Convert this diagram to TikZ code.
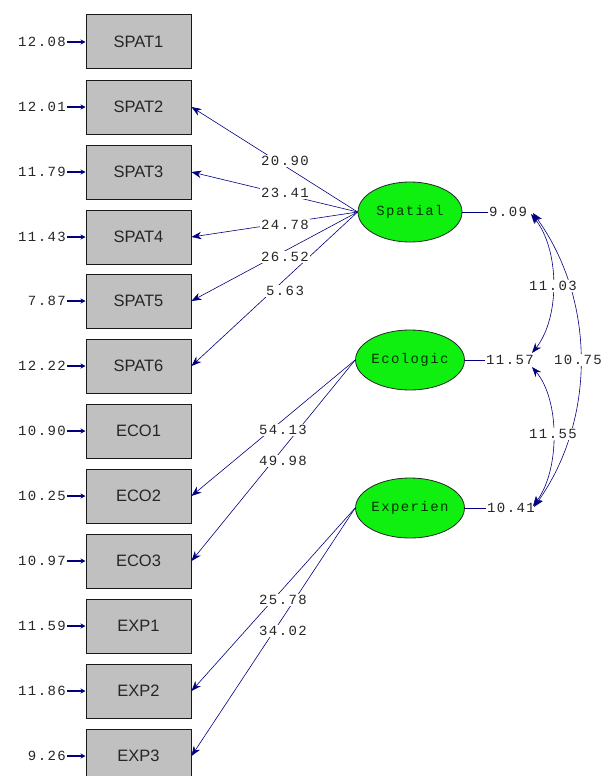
\documentclass[tikz,border=0pt]{standalone}
\usepackage{fontspec}
\setmainfont{Liberation Sans}
\newfontfamily\monof[LetterSpace=10]{Liberation Mono}
\usetikzlibrary{arrows.meta,shapes.geometric}
\definecolor{navy}{RGB}{0,0,128}
\definecolor{boxgray}{RGB}{192,192,192}
\definecolor{latgreen}{RGB}{16,240,16}
\begin{document}
\begin{tikzpicture}[x=1pt,y=-1pt,
  obs/.style={draw=black!90, line width=1pt, fill=boxgray, minimum width=105pt, minimum height=54pt, inner sep=0pt, font=\fontsize{16.5}{16.5}\selectfont, text=black!85},
  lat/.style={ellipse, draw=black!85, line width=0.8pt, fill=latgreen, minimum width=104pt, minimum height=60pt, inner sep=0pt, font=\monof\fontsize{14}{14}\selectfont, text=black!80!green},
  num/.style={font=\monof\fontsize{14}{14}\selectfont, inner sep=1pt, text=black!85},
  lab/.style={num, fill=white, inner sep=1.5pt},
  load/.style={navy, line width=0.6pt, -{Stealth[length=10pt,width=7.5pt]}},
  err/.style={navy, line width=1.8pt, -{Stealth[length=5pt,width=5pt]}},
  cov/.style={navy, line width=0.6pt, {Stealth[length=10pt,width=7.5pt]}-{Stealth[length=10pt,width=7.5pt]}}
]
\useasboundingbox (0,0) rectangle (611,776);
\fill[white] (0,0) rectangle (611,776);

% observed variables
\node[obs] (SPAT1) at (138.5,42) {SPAT1};
\node[obs] (SPAT2) at (138.5,107) {SPAT2};
\node[obs] (SPAT3) at (138.5,172) {SPAT3};
\node[obs] (SPAT4) at (138.5,237) {SPAT4};
\node[obs] (SPAT5) at (138.5,301) {SPAT5};
\node[obs] (SPAT6) at (138.5,366) {SPAT6};
\node[obs] (ECO1) at (138.5,431) {ECO1};
\node[obs] (ECO2) at (138.5,496) {ECO2};
\node[obs] (ECO3) at (138.5,561) {ECO3};
\node[obs] (EXP1) at (138.5,626) {EXP1};
\node[obs] (EXP2) at (138.5,691) {EXP2};
\node[obs] (EXP3) at (138.5,756) {EXP3};

% error terms
\node[num, anchor=east] (e1) at (67,42) {12.08};
\node[num, anchor=east] (e2) at (67,107) {12.01};
\node[num, anchor=east] (e3) at (67,172) {11.79};
\node[num, anchor=east] (e4) at (67,237) {11.43};
\node[num, anchor=east] (e5) at (67,301) {7.87};
\node[num, anchor=east] (e6) at (67,366) {12.22};
\node[num, anchor=east] (e7) at (67,431) {10.90};
\node[num, anchor=east] (e8) at (67,496) {10.25};
\node[num, anchor=east] (e9) at (67,561) {10.97};
\node[num, anchor=east] (e10) at (67,626) {11.59};
\node[num, anchor=east] (e11) at (67,691) {11.86};
\node[num, anchor=east] (e12) at (67,756) {9.26};
\foreach \e/\b in {e1/SPAT1,e2/SPAT2,e3/SPAT3,e4/SPAT4,e5/SPAT5,e6/SPAT6,e7/ECO1,e8/ECO2,e9/ECO3,e10/EXP1,e11/EXP2,e12/EXP3}
  \draw[err] (\e.east) -- (\b.west);

% latent variables
\node[lat] (sp) at (410,212) {Spatial};
\node[lat] (ec) at (410,360) {Ecologic};
\node[lat] (ex) at (410,508) {Experien};

% loadings
\draw[load] (sp.west) -- (SPAT2.east);
\draw[load] (sp.west) -- (SPAT3.east);
\draw[load] (sp.west) -- (SPAT4.east);
\draw[load] (sp.west) -- (SPAT5.east);
\draw[load] (sp.west) -- (SPAT6.east);
\draw[load] (ec.west) -- (ECO2.east);
\draw[load] (ec.west) -- (ECO3.east);
\draw[load] (ex.west) -- (EXP2.east);
\draw[load] (ex.west) -- (EXP3.east);

\node[lab] (l1) at (285,161) {20.90};
\node[lab] (l2) at (285,193) {23.41};
\node[lab] (l3) at (285,225) {24.78};
\node[lab] (l4) at (285,257) {26.52};
\node[lab] (l5) at (285,291) {5.63};
\node[lab] (l6) at (283,430) {54.13};
\node[lab] (l7) at (283,461) {49.98};
\node[lab] (l8) at (283,600) {25.78};
\node[lab] (l9) at (283,631) {34.02};

% latent variance labels
\node[num, anchor=west] (v1) at (488,212) {9.09};
\node[num, anchor=west] (v2) at (485,360) {11.57};
\node[num, anchor=west] (v3) at (486,508) {10.41};
\draw[navy, line width=0.6pt] (sp.east) -- (v1.west);
\draw[navy, line width=0.6pt] (ec.east) -- (v2.west);
\draw[navy, line width=0.6pt] (ex.east) -- (v3.west);

% covariance endpoints
\coordinate (a1) at (531,214);
\coordinate (a2) at (533,213);
\coordinate (b1) at (532,353);
\coordinate (b2) at (532,367);
\coordinate (c1) at (533,506);
\coordinate (c2) at (534,507);

\draw[cov] (a1) .. controls (560,250) and (560,318) .. (b1);
\draw[cov] (b2) .. controls (560,400) and (560,470) .. (c1);
\draw[cov] (a2) .. controls (596,300) and (596,420) .. (c2);

\node[lab] (k1) at (553,286) {11.03};
\node[lab] (k2) at (553,434) {11.55};
\node[lab] (k3) at (578,360) {10.75};
\end{tikzpicture}
\end{document}
